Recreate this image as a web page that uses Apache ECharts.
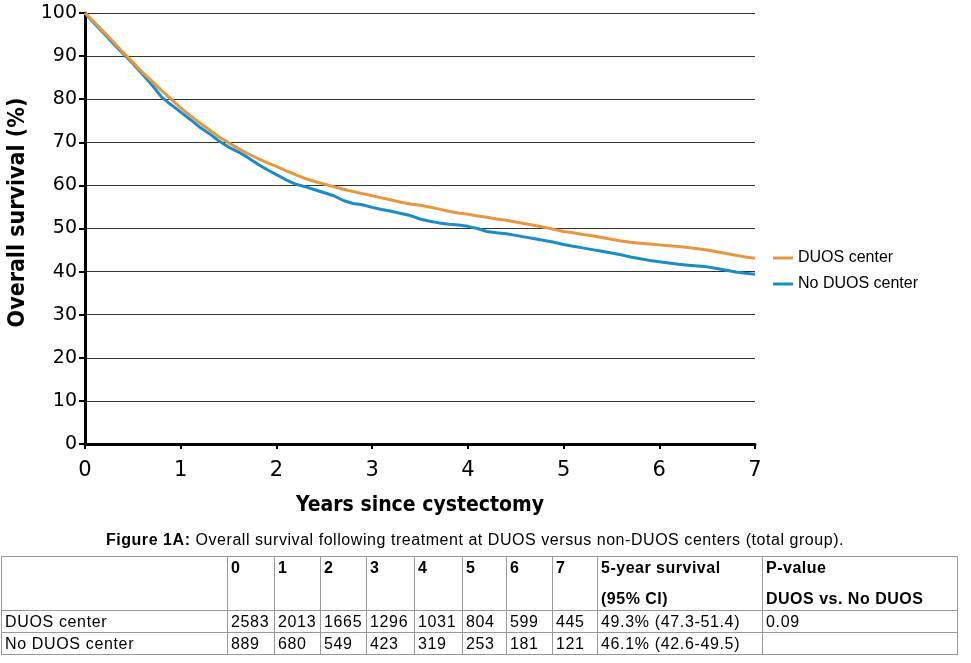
<!DOCTYPE html>
<html>
<head>
<meta charset="utf-8">
<script src="https://cdn.jsdelivr.net/npm/echarts@6/dist/echarts.min.js"></script>
<style>
  html, body { margin: 0; padding: 0; background: #fff; width: 971px; height: 663px; overflow: hidden; }
  #chart { position: absolute; left: 0; top: 0; width: 971px; height: 663px; }
  #caption { position: absolute; left: 0; top: 530px; width: 950px; text-align: center;
    font-family: "Liberation Sans", Arial, sans-serif; font-size: 16px; letter-spacing: 0.55px; color: #000; line-height: 20px; }
  table { position: absolute; left: 1px; top: 556px; border-collapse: collapse; table-layout: fixed;
    font-family: "Liberation Sans", Arial, sans-serif; font-size: 16px; letter-spacing: 0.65px; color: #000; }
  td { border: 1px solid #999; padding: 0 0 0 3px; vertical-align: top; height: 21px; line-height: 21px; white-space: nowrap; overflow: hidden; }
  tr.h td { font-weight: bold; height: 53px; letter-spacing: 0.5px; }
  tr.h td div.l1 { line-height: 22px; }
  tr.h td div.l2 { line-height: 22px; margin-top: 9px; }
</style>
</head>
<body>
<div id="chart"></div>
<div id="caption"><b>Figure 1A:</b> Overall survival following treatment at DUOS versus non-DUOS centers (total group).</div>
<table id="tbl"></table>
<script>
// ---- data ----
const years = [0,0.1,0.2,0.3,0.4,0.5,0.6,0.7,0.8,0.9,1.0,1.1,1.2,1.3,1.4,1.5,1.6,1.7,1.8,1.9,2.0,2.1,2.2,2.3,2.4,2.5,2.6,2.7,2.8,2.9,3.0,3.1,3.2,3.3,3.4,3.5,3.6,3.7,3.8,3.9,4.0,4.1,4.2,4.3,4.4,4.5,4.6,4.7,4.8,4.9,5.0,5.1,5.2,5.3,5.4,5.5,5.6,5.7,5.8,5.9,6.0,6.1,6.2,6.3,6.4,6.5,6.6,6.7,6.8,6.9,7.0];
const duosSurvival = [100,97.8,95.5,93.2,90.8,88.6,86.2,84.2,82.0,80.0,78.0,76.2,74.5,72.9,71.3,69.9,68.6,67.4,66.3,65.3,64.4,63.4,62.5,61.6,60.9,60.3,59.7,59.1,58.6,58.1,57.6,57.1,56.6,56.1,55.7,55.4,55.0,54.5,54.0,53.6,53.3,52.9,52.6,52.2,51.9,51.5,51.1,50.7,50.3,49.8,49.3,49.0,48.6,48.3,47.9,47.5,47.1,46.8,46.6,46.4,46.2,46.0,45.8,45.6,45.3,45.0,44.6,44.2,43.8,43.4,43.1];
const noDuosSurvival = [100,97.5,95.2,92.8,90.5,88.3,85.8,83.3,80.5,78.7,77.0,75.3,73.5,72.0,70.3,68.9,67.8,66.5,65.0,63.7,62.5,61.3,60.3,59.7,59.0,58.3,57.6,56.5,55.8,55.5,54.9,54.4,54.0,53.5,53.0,52.2,51.7,51.3,51.0,50.8,50.5,50.0,49.3,49.0,48.8,48.4,48.0,47.6,47.2,46.8,46.3,45.9,45.5,45.1,44.7,44.3,43.9,43.4,43.0,42.6,42.3,42.0,41.7,41.5,41.3,41.1,40.7,40.3,39.9,39.6,39.4];
const seriesNames = ['DUOS center', 'No DUOS center'];
const xTicks = [0,1,2,3,4,5,6,7];
const yTicks = [0,10,20,30,40,50,60,70,80,90,100];
const tableHeader = [['',''], ['0',''],['1',''],['2',''],['3',''],['4',''],['5',''],['6',''],['7',''],['5-year survival','(95% CI)'],['P-value','DUOS vs. No DUOS']];
const atRiskDuos = [2583,2013,1665,1296,1031,804,599,445];
const atRiskNoDuos = [889,680,549,423,319,253,181,121];
const fiveYear = ['49.3% (47.3-51.4)', '46.1% (42.6-49.5)'];
const pValue = ['0.09', ''];

// ---- table ----
const colW = [226,47,46,46,48,48,44,46,45,165,195];
let html = '<colgroup>' + colW.map(w=>'<col style="width:'+w+'px">').join('') + '</colgroup>';
html += '<tr class="h">' + tableHeader.map(h=>'<td><div class="l1">'+(h[0]||'&nbsp;')+'</div><div class="l2">'+(h[1]||'&nbsp;')+'</div></td>').join('') + '</tr>';
html += '<tr><td>'+seriesNames[0]+'</td>' + atRiskDuos.map(v=>'<td>'+v+'</td>').join('') + '<td>'+fiveYear[0]+'</td><td>'+pValue[0]+'</td></tr>';
html += '<tr><td>'+seriesNames[1]+'</td>' + atRiskNoDuos.map(v=>'<td>'+v+'</td>').join('') + '<td>'+fiveYear[1]+'</td><td>'+(pValue[1]||'&nbsp;')+'</td></tr>';
document.getElementById('tbl').innerHTML = html;

// ---- chart ----
const chart = echarts.init(document.getElementById('chart'), null, {renderer: 'canvas'});
const colors = ['#E8973E', '#1A8DC8'];
chart.setOption({
  animation: false,
  grid: { left: 85, right: 216, top: 13, bottom: 219, containLabel: false, outerBoundsMode: 'none' },
  legend: {
    orient: 'vertical', left: 768, top: 245, itemGap: 10,
    itemWidth: 20, itemHeight: 3, icon: 'rect',
    textStyle: { fontFamily: 'Liberation Sans, Arial, sans-serif', fontSize: 16, color: '#000' },
    data: seriesNames
  },
  xAxis: {
    type: 'value', min: 0, max: 7, interval: 1,
    name: 'Years since cystectomy', nameLocation: 'middle', nameGap: 51,
    nameTextStyle: { fontFamily: 'DejaVu Sans Condensed, DejaVu Sans', fontWeight: 'bold', fontSize: 21, color: '#000' },
    axisLine: { show: true, lineStyle: { color: '#000', width: 3 } },
    axisTick: { show: true, inside: false, length: 5, lineStyle: { color: '#000', width: 2 } },
    axisLabel: { fontFamily: 'DejaVu Sans', fontSize: 21, color: '#000', margin: 16,
      formatter: v => xTicks.includes(v) ? String(v) : '' },
    splitLine: { show: false }
  },
  yAxis: {
    type: 'value', min: 0, max: 100, interval: 10,
    name: 'Overall survival (%)', nameLocation: 'middle', nameGap: 55, nameRotate: 90,
    nameTextStyle: { fontFamily: 'DejaVu Sans Condensed, DejaVu Sans', fontWeight: 'bold', fontSize: 23, color: '#000',
      padding: [0, 0, 0, 32] },
    axisLine: { show: true, lineStyle: { color: '#000', width: 3 } },
    axisTick: { show: true, inside: false, length: 6, lineStyle: { color: '#000', width: 2 } },
    axisLabel: { fontFamily: 'DejaVu Sans', fontSize: 19, color: '#000', margin: 8,
      formatter: v => yTicks.includes(v) ? String(v) : '' },
    splitLine: { show: true, lineStyle: { color: '#333', width: 1 } }
  },
  series: [
    { name: seriesNames[0], type: 'line', showSymbol: false, symbol: 'none',
      data: years.map((t,i)=>[t, duosSurvival[i]]),
      lineStyle: { color: colors[0], width: 3 }, itemStyle: { color: colors[0] }, z: 3 },
    { name: seriesNames[1], type: 'line', showSymbol: false, symbol: 'none',
      data: years.map((t,i)=>[t, noDuosSurvival[i]]),
      lineStyle: { color: colors[1], width: 3 }, itemStyle: { color: colors[1] }, z: 2 }
  ]
});
</script>
</body>
</html>
